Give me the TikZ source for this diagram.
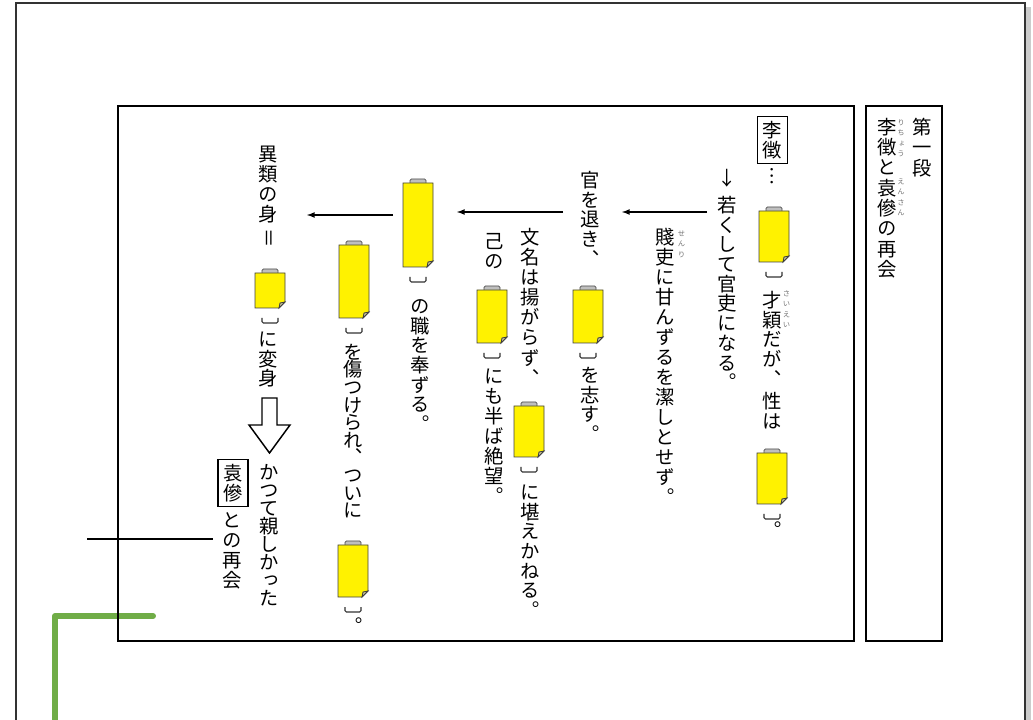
\documentclass[tikz,border=0pt]{standalone}
\usepackage{fontspec}
\newfontfamily\tatejp[RawFeature=+vert]{Noto Sans CJK JP}
\newcommand{\tatefont}{\tatejp\fontsize{14.5}{14.5}\selectfont}
\newcommand{\rubyfont}{\tatejp\fontsize{5.5}{5.5}\selectfont\color{black!55}}
% one character per cell, top to bottom
\def\tatei#1{\ifx\relax#1\else\hbox to1em{\vrule height.88em depth.12em width0pt\hss#1\hss}\kern\tategap\relax\expandafter\tatei\fi}
\newcommand{\tatebox}[2][0.3pt]{\vbox{\offinterlineskip\def\tategap{#1}\tatei#2\relax}}
\definecolor{midori}{RGB}{112,173,71}
\tikzset{>=latex}
\tikzset{tate/.style={anchor=north, inner sep=0pt, font=\tatefont}}
\tikzset{ruby/.style={anchor=north, inner sep=0pt, font=\rubyfont}}
\tikzset{namebox/.style={draw, line width=1.1pt, inner xsep=4pt, inner ysep=3.3pt, font=\tatefont}}
% yellow blank with brackets: x, top, bottom
\newcommand{\anaume}[3]{
	\filldraw[fill=black!25, draw=black!70, line width=0.6pt, rounded corners=1pt] (#1-8,#2+2) -- (#1-8,#2-4) -- (#1+8,#2-4) -- (#1+8,#2+2);
	\filldraw[fill=yellow, draw=black!75, line width=0.6pt] (#1-15,#2) -- (#1+15,#2) -- (#1+15,#3-6) -- (#1+9,#3) -- (#1-15,#3) -- cycle;
	\filldraw[fill=yellow!50!black!50, draw=black!75, line width=0.6pt] (#1+15,#3-6) -- (#1+10,#3-5) -- (#1+9,#3) -- cycle;
	\draw[black!80, line width=0.8pt, rounded corners=1pt] (#1-8,#3+10) -- (#1-8,#3+15) -- (#1+8,#3+15) -- (#1+8,#3+10);
}

\begin{document}
\begin{tikzpicture}[x=0.75pt, y=-0.75pt]
	\useasboundingbox (0,0) rectangle (1033,720);
	% page
	\fill[black!20] (1026,7) rectangle (1031,720);
	\draw[black!80, line width=0.8pt] (16,720) -- (16,3) -- (1025,3) -- (1025,720);
	\draw[midori, line width=4.5pt, line cap=round, line join=round] (153,616) -- (55,616) -- (55,730);
	\coordinate (sen1) at (87,539);
	\coordinate (sen2) at (213,539);
	\draw[line width=0.8pt] (sen1) -- (sen2);
	% frames
	\draw[line width=1.1pt] (118,106) rectangle (854,641);
	\draw[line width=1.1pt] (866,106) rectangle (942,641);
	% title
	\node[tate] (dan) at (922,117) {\tatebox[1pt]{第一段}};
	\node[tate] (midashi) at (887,117) {\tatebox[.75pt]{李徴と袁傪の再会}};
	\node[ruby] (r-richo) at (901,119) {\tatebox[2.2pt]{りちょう}};
	\node[ruby] (r-ensan) at (901,178) {\tatebox[2.2pt]{えんさん}};
	% column 1
	\node[namebox] (richo) at (772.5,140) {\tatebox[0pt]{李徴}};
	\node[tate] (ten) at (772.5,166) {\tatebox{︙}};
	\anaume{774}{211}{262}
	\node[tate] (sai) at (772.5,290) {\tatebox{才穎だが︑}};
	\node[ruby] (r-sai) at (786.5,290) {\tatebox[2.2pt]{さいえい}};
	\node[tate] (sei) at (772.5,391) {\tatebox{性は}};
	\anaume{772}{453}{504}
	\node[tate] (maru1) at (772.5,520) {\tatebox{︒}};
	% column 2
	\node[tate] (yaji) at (727.5,168) {\tatebox{↓}};
	\node[tate] (kanri) at (727.5,195) {\tatebox{若くして官吏になる︒}};
	% column 3
	\node[tate] (senri) at (665,227) {\tatebox[.5pt]{賤吏に甘んずるを潔しとせず︒}};
	\node[ruby] (r-senri) at (681.5,230) {\tatebox[2.2pt]{せんり}};
	\coordinate (ya1s) at (707,212);
	\coordinate (ya1e) at (622,212);
	\draw[->, line width=1pt] (ya1s) -- (ya1e);
	% column 4
	\node[tate] (shirizoki) at (590,170) {\tatebox{官を退き︑}};
	\anaume{588}{290}{343}
	\node[tate] (kokoro) at (590,365) {\tatebox{を志す︒}};
	\coordinate (ya2s) at (563,212);
	\coordinate (ya2e) at (457,212);
	\draw[->, line width=1pt] (ya2s) -- (ya2e);
	% column 5
	\node[tate] (bunmei) at (530,227) {\tatebox[.6pt]{文名は揚がらず︑}};
	\anaume{529}{406}{457}
	\node[tate] (tae) at (530,482) {\tatebox{に堪えかねる︒}};
	% column 6
	\node[tate] (onore) at (494,231) {\tatebox{己の}};
	\anaume{492}{290}{343}
	\node[tate] (zetsu) at (494,366) {\tatebox[.5pt]{にも半ば絶望︒}};
	% column 7
	\anaume{418}{183}{267}
	\node[tate] (shoku) at (420,296) {\tatebox{の職を奉ずる︒}};
	\coordinate (ya3s) at (393,215);
	\coordinate (ya3e) at (307,215);
	\draw[->, line width=1pt] (ya3s) -- (ya3e);
	% column 8
	\anaume{354}{245}{318}
	\node[tate] (kizu) at (353.5,342) {\tatebox[-1.3pt]{を傷つけられ︑ついに}};
	\anaume{353}{545}{597}
	\node[tate] (maru2) at (353.5,616) {\tatebox{︒}};
	% column 9
	\node[tate] (irui) at (268,144) {\tatebox[.5pt]{異類の身}};
	\node[tate] (equal) at (269,228) {\tatebox{＝}};
	\anaume{270}{273}{308}
	\node[tate] (henshin) at (268,329) {\tatebox{に変身}};
	\draw[line width=1.1pt, fill=white] (262,398) -- (277,398) -- (277,425) -- (290,425) -- (269.5,453) -- (249,425) -- (262,425) -- cycle;
	\node[tate] (katsute) at (269,462) {\tatebox[-1pt]{かつて親しかった}};
	% column 10
	\node[namebox] (ensan) at (233,483) {\tatebox[0pt]{袁傪}};
	\node[tate] (saikai) at (232.5,510) {\tatebox[.5pt]{との再会}};
\end{tikzpicture}
\end{document}
